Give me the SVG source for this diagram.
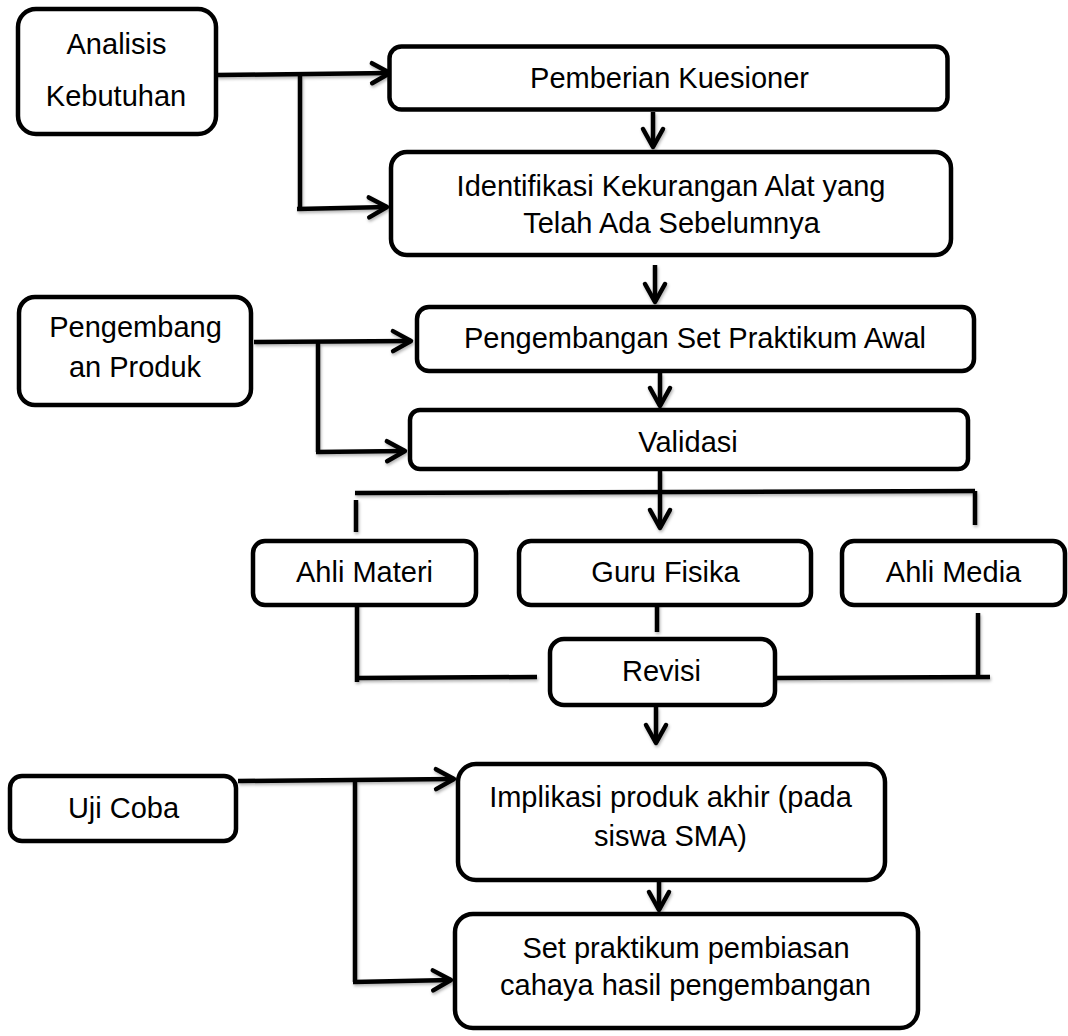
<svg xmlns="http://www.w3.org/2000/svg" width="1068" height="1036" viewBox="0 0 1068 1036">
<style>
  .box { fill: #ffffff; stroke: #000000; stroke-width: 4.5; }
  .t { font-family: "Liberation Sans", Arial, sans-serif; font-size: 29px; fill: #000000; text-anchor: middle; }
  .c { fill: none; stroke: #000000; stroke-width: 4.5; stroke-linejoin: round; }
  .a { marker-end: url(#arr); }
</style>
<defs>
  <marker id="arr" viewBox="0 0 24 24" refX="21" refY="12" markerWidth="24" markerHeight="24" markerUnits="userSpaceOnUse" orient="auto" overflow="visible">
    <path d="M3,2 L21,12 L3,22" fill="none" stroke="#000" stroke-width="4.5" stroke-linejoin="round" stroke-linecap="round"/>
  </marker>
  <filter id="sh" x="-10%" y="-10%" width="120%" height="120%">
    <feDropShadow dx="1" dy="2" stdDeviation="1.5" flood-color="#000" flood-opacity="0.3"/>
  </filter>
</defs>
<rect width="1068" height="1036" fill="#ffffff"/>

<g id="connectors" filter="url(#sh)">
  <path class="c a" d="M217,75 L390,73"/>
  <path class="c" d="M300,76 L300,210"/>
  <path class="c a" d="M297,209 L387,207"/>
  <path class="c a" d="M653,112 L653,147"/>
  <path class="c a" d="M655,265 L655,302"/>
  <path class="c a" d="M254,342 L411,341"/>
  <path class="c" d="M318,342 L318,452"/>
  <path class="c a" d="M316,452 L405,451"/>
  <path class="c a" d="M660,373 L660,406"/>
  <path class="c a" d="M660,471 L660,528"/>
  <path class="c" d="M355,493 L975,491"/>
  <path class="c" d="M356,500 L356,532"/>
  <path class="c" d="M975,491 L975,525"/>
  <path class="c" d="M657,600 L657,632"/>
  <path class="c" d="M357,599 L357,682"/>
  <path class="c" d="M357,678 L537,677"/>
  <path class="c" d="M978,613 L978,679"/>
  <path class="c" d="M772,678 L990,677"/>
  <path class="c a" d="M656,707 L656,743"/>
  <path class="c a" d="M659,877 L659,910"/>
  <path class="c a" d="M238,781 L454,779"/>
  <path class="c" d="M355,780 L355,982"/>
  <path class="c a" d="M353,982 L451,980"/>
</g>

<g id="analisis-kebutuhan">
  <rect class="box" x="18" y="9" width="198" height="125" rx="18"/>
  <text class="t" x="116.5" y="54">Analisis</text>
  <text class="t" x="116" y="106">Kebutuhan</text>
</g>

<g id="pemberian-kuesioner">
  <rect class="box" x="389.5" y="46.5" width="558" height="63" rx="12"/>
  <text class="t" x="669.5" y="88">Pemberian Kuesioner</text>
</g>

<g id="identifikasi">
  <rect class="box" x="391" y="152" width="560" height="103" rx="16"/>
  <text class="t" x="671" y="196">Identifikasi Kekurangan Alat yang</text>
  <text class="t" x="671.5" y="233">Telah Ada Sebelumnya</text>
</g>

<g id="pengembangan-produk">
  <rect class="box" x="19" y="297" width="232" height="108" rx="16"/>
  <text class="t" x="135.5" y="337">Pengembang</text>
  <text class="t" x="135" y="377">an Produk</text>
</g>

<g id="pengembangan-set">
  <rect class="box" x="417" y="307" width="557" height="64" rx="12"/>
  <text class="t" x="695" y="348">Pengembangan Set Praktikum Awal</text>
</g>

<g id="validasi">
  <rect class="box" x="410" y="410" width="558" height="59" rx="10"/>
  <text class="t" x="688" y="452">Validasi</text>
</g>

<g id="ahli-materi">
  <rect class="box" x="253" y="541" width="223" height="64" rx="12"/>
  <text class="t" x="364.5" y="582">Ahli Materi</text>
</g>

<g id="guru-fisika">
  <rect class="box" x="519" y="541" width="292" height="64" rx="12"/>
  <text class="t" x="665.5" y="582">Guru Fisika</text>
</g>

<g id="ahli-media">
  <rect class="box" x="842" y="541" width="223" height="64" rx="12"/>
  <text class="t" x="953.5" y="582">Ahli Media</text>
</g>

<g id="revisi">
  <rect class="box" x="550" y="639" width="225" height="66" rx="14"/>
  <text class="t" x="661.5" y="681">Revisi</text>
</g>

<g id="uji-coba">
  <rect class="box" x="10" y="776" width="226" height="65" rx="12"/>
  <text class="t" x="123.5" y="818">Uji Coba</text>
</g>

<g id="implikasi">
  <rect class="box" x="458" y="764" width="427" height="116" rx="18"/>
  <text class="t" x="670.5" y="807">Implikasi produk akhir (pada</text>
  <text class="t" x="670.5" y="846">siswa SMA)</text>
</g>

<g id="set-praktikum">
  <rect class="box" x="455" y="914" width="463" height="114" rx="18"/>
  <text class="t" x="686" y="958">Set praktikum pembiasan</text>
  <text class="t" x="685.5" y="995">cahaya hasil pengembangan</text>
</g>
</svg>
